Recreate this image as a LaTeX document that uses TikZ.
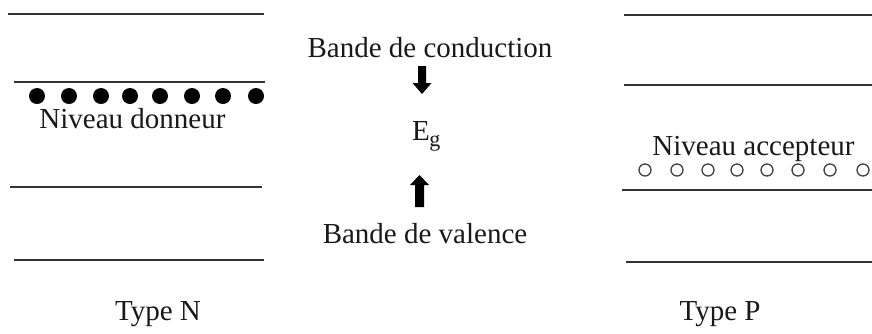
\documentclass[tikz,border=0pt]{standalone}
\usepackage{fontspec}
\setmainfont{Liberation Serif}
\begin{document}
\begin{tikzpicture}[x=1pt,y=-1pt,
  band/.style={line width=1.6pt, black!80},
  lbl/.style={font=\fontsize{29}{32}\selectfont, inner sep=0pt, anchor=base, text=black!90},
  donor/.style={circle, fill=black, minimum size=16pt, inner sep=0pt},
  acceptor/.style={circle, draw=black!75, line width=1.3pt, minimum size=12pt, inner sep=0pt},
  blockarrow/.style={fill=black, draw=none}]
\useasboundingbox (0,0) rectangle (872,333);
% left side (type N)
\draw[band] (8,14) -- (264,14);
\draw[band] (14,82) -- (265,82);
\draw[band] (10,187) -- (262,187);
\draw[band] (14,260) -- (264,260);
\foreach \i/\x in {1/37,2/69,3/101,4/130,5/160,6/192,7/223,8/256}
  \node[donor] (d\i) at (\x,96) {};
\node[lbl] (nd) at (132.5,128) {Niveau donneur};
\node[lbl] (tn) at (158,320) {Type N};
% right side (type P)
\draw[band] (624,15) -- (872,15);
\draw[band] (624,85) -- (872,85);
\draw[band] (622,190) -- (872,190);
\draw[band] (626,262) -- (872,262);
\foreach \i/\x in {1/645,2/677,3/708,4/737,5/767,6/798,7/830,8/863}
  \node[acceptor] (a\i) at (\x,170) {};
\node[lbl] (na) at (753.5,155) {Niveau accepteur};
\node[lbl] (tp) at (720,320) {Type P};
% centre
\node[lbl] (bc) at (430,57) {Bande de conduction};
\node[lbl, anchor=base west] (eg) at (412,140) {E\kern-0.5pt\raisebox{-6pt}{\fontsize{22}{22}\selectfont g}};
\node[lbl] (bv) at (425,243) {Bande de valence};
% block arrows
\fill[blockarrow] (418,66) -- (426,66) -- (426,83) -- (431.5,83) -- (422,94) -- (412.5,83) -- (418,83) -- cycle;
\fill[blockarrow] (415,207) -- (424,207) -- (424,185) -- (429,185) -- (419.5,175) -- (410,185) -- (415,185) -- cycle;
\end{tikzpicture}
\end{document}
